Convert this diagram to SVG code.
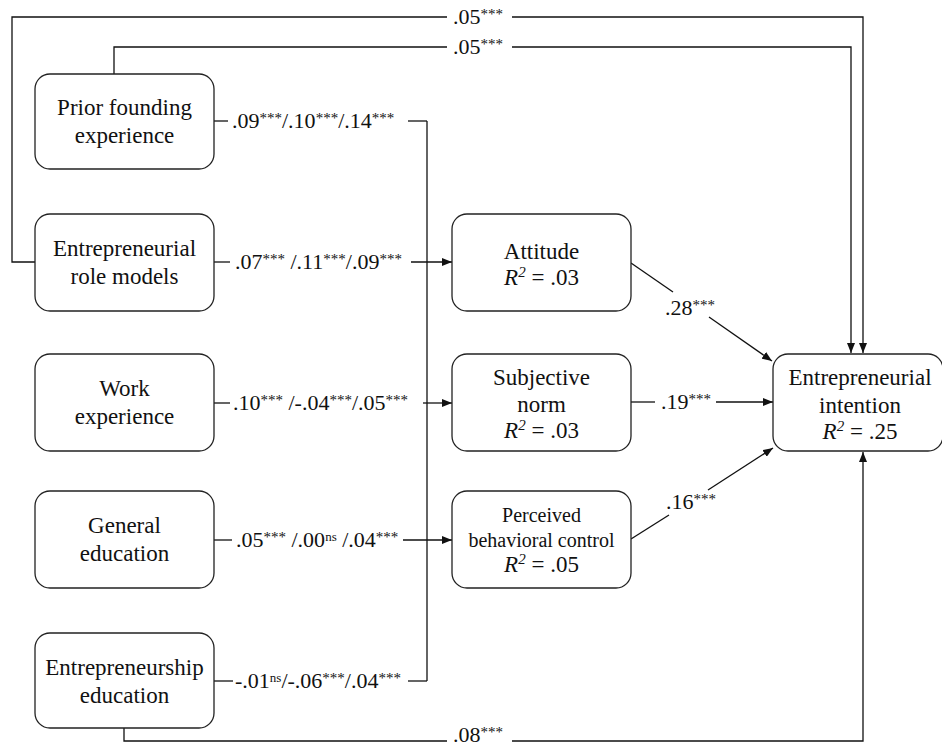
<svg xmlns="http://www.w3.org/2000/svg" width="942" height="747" viewBox="0 0 942 747">
  <defs>
    <marker id="arr" markerWidth="10" markerHeight="8" refX="10" refY="4" orient="auto" markerUnits="userSpaceOnUse">
      <path d="M0,0 L10,4 L0,8 Z" fill="#111"/>
    </marker>
    <style>
      .box { fill: #fff; stroke: #222; stroke-width: 1.3; }
      .ln { fill: none; stroke: #111; stroke-width: 1.3; }
      .ar { fill: none; stroke: #111; stroke-width: 1.3; marker-end: url(#arr); }
      text { font-family: "Times New Roman", "Liberation Serif", Tinos, "Noto Serif", "DejaVu Serif", FreeSerif, serif; fill: #111; }
      .nt { font-size: 23px; text-anchor: middle; }
      .sm { font-size: 20px; }
      .lbl { font-size: 22px; }
      .s { font-size: 15px; }
      .ns { font-size: 13px; }
      .it { font-style: italic; }
    </style>
  </defs>

  <rect width="942" height="747" fill="#fff"/>

  <!-- connectors -->
  <g id="connectors">
    <!-- role models -> intention (outer loop over the top) -->
    <polyline class="ln" points="35,262 12,262 12,17 447,17"/>
    <polyline class="ar" points="512,17 863,17 863,353"/>
    <!-- prior founding -> intention -->
    <polyline class="ln" points="114,74 114,47 447,47"/>
    <polyline class="ar" points="512,47 851,47 851,353"/>
    <!-- entrepreneurship education -> intention (bottom loop) -->
    <polyline class="ln" points="124,728 124,741 447,741"/>
    <polyline class="ar" points="512,741 863,741 863,452"/>

    <!-- collector bus -->
    <line class="ln" x1="427" y1="121" x2="427" y2="681"/>

    <line class="ln" x1="214" y1="121" x2="228" y2="121"/>
    <line class="ln" x1="408" y1="121" x2="427" y2="121"/>

    <line class="ln" x1="214" y1="262" x2="230" y2="262"/>
    <line class="ar" x1="411" y1="262" x2="452" y2="262"/>

    <line class="ln" x1="214" y1="403" x2="230" y2="403"/>
    <line class="ar" x1="423" y1="403" x2="452" y2="403"/>

    <line class="ln" x1="214" y1="540" x2="232" y2="540"/>
    <line class="ar" x1="403" y1="540" x2="452" y2="540"/>

    <line class="ln" x1="214" y1="681" x2="233" y2="681"/>
    <line class="ln" x1="408" y1="681" x2="427" y2="681"/>

    <!-- attitudes -> intention -->
    <line class="ln" x1="631" y1="263" x2="673" y2="292"/>
    <line class="ar" x1="709" y1="317" x2="772" y2="361"/>

    <line class="ln" x1="631" y1="402" x2="655" y2="402"/>
    <line class="ar" x1="716" y1="402" x2="773" y2="402"/>

    <line class="ln" x1="631" y1="539" x2="669" y2="515"/>
    <line class="ar" x1="708" y1="490" x2="773" y2="448"/>

    <!-- path coefficients -->
    <text class="lbl" x="453" y="24">.05<tspan class="s" dy="-5">***</tspan></text>
    <text class="lbl" x="453" y="54">.05<tspan class="s" dy="-5">***</tspan></text>
    <text class="lbl" x="453" y="742">.08<tspan class="s" dy="-5">***</tspan></text>

    <text class="lbl" x="232" y="128">.09<tspan class="s" dy="-5">***</tspan><tspan dy="5">/.10</tspan><tspan class="s" dy="-5">***</tspan><tspan dy="5">/.14</tspan><tspan class="s" dy="-5">***</tspan></text>
    <text class="lbl" x="235" y="269">.07<tspan class="s" dy="-5">***</tspan><tspan dy="5"> /.11</tspan><tspan class="s" dy="-5">***</tspan><tspan dy="5">/.09</tspan><tspan class="s" dy="-5">***</tspan></text>
    <text class="lbl" x="233" y="410">.10<tspan class="s" dy="-5">***</tspan><tspan dy="5"> /-.04</tspan><tspan class="s" dy="-5">***</tspan><tspan dy="5">/.05</tspan><tspan class="s" dy="-5">***</tspan></text>
    <text class="lbl" x="236" y="547">.05<tspan class="s" dy="-5">***</tspan><tspan dy="5"> /.00</tspan><tspan class="ns" dy="-6">ns</tspan><tspan dy="6"> /.04</tspan><tspan class="s" dy="-5">***</tspan></text>
    <text class="lbl" x="235" y="688">-.01<tspan class="ns" dy="-6">ns</tspan><tspan dy="6">/-.06</tspan><tspan class="s" dy="-5">***</tspan><tspan dy="5">/.04</tspan><tspan class="s" dy="-5">***</tspan></text>

    <text class="lbl" x="665" y="315">.28<tspan class="s" dy="-5">***</tspan></text>
    <text class="lbl" x="661" y="409">.19<tspan class="s" dy="-5">***</tspan></text>
    <text class="lbl" x="666" y="509">.16<tspan class="s" dy="-5">***</tspan></text>
  </g>

  <!-- antecedents -->
  <g id="prior-founding">
    <rect class="box" x="35" y="74" width="179" height="95" rx="15"/>
    <text class="nt" x="124.5" y="115">Prior founding</text>
    <text class="nt" x="124.5" y="143">experience</text>
  </g>
  <g id="role-models">
    <rect class="box" x="35" y="214" width="179" height="97" rx="15"/>
    <text class="nt" x="124.5" y="256">Entrepreneurial</text>
    <text class="nt" x="124.5" y="284">role models</text>
  </g>
  <g id="work-experience">
    <rect class="box" x="35" y="354" width="179" height="97" rx="15"/>
    <text class="nt" x="124.5" y="396">Work</text>
    <text class="nt" x="124.5" y="424">experience</text>
  </g>
  <g id="general-education">
    <rect class="box" x="35" y="491" width="179" height="97" rx="15"/>
    <text class="nt" x="124.5" y="533">General</text>
    <text class="nt" x="124.5" y="561">education</text>
  </g>
  <g id="entrepreneurship-education">
    <rect class="box" x="35" y="633" width="179" height="95" rx="15"/>
    <text class="nt" x="124.5" y="675">Entrepreneurship</text>
    <text class="nt" x="124.5" y="703">education</text>
  </g>

  <!-- TPB constructs -->
  <g id="attitude">
    <rect class="box" x="452" y="214" width="179" height="97" rx="15"/>
    <text class="nt" x="541.5" y="259">Attitude</text>
    <text class="nt" x="541.5" y="285"><tspan class="it">R</tspan><tspan class="it" font-size="15" dy="-8">2</tspan><tspan dy="8"> = .03</tspan></text>
  </g>
  <g id="subjective-norm">
    <rect class="box" x="452" y="354" width="179" height="97" rx="15"/>
    <text class="nt" x="541.5" y="385">Subjective</text>
    <text class="nt" x="541.5" y="412">norm</text>
    <text class="nt" x="541.5" y="438"><tspan class="it">R</tspan><tspan class="it" font-size="15" dy="-8">2</tspan><tspan dy="8"> = .03</tspan></text>
  </g>
  <g id="perceived-behavioral-control">
    <rect class="box" x="452" y="491" width="179" height="97" rx="15"/>
    <text class="nt sm" x="541.5" y="522">Perceived</text>
    <text class="nt sm" x="541.5" y="547">behavioral control</text>
    <text class="nt" x="541.5" y="572"><tspan class="it">R</tspan><tspan class="it" font-size="15" dy="-8">2</tspan><tspan dy="8"> = .05</tspan></text>
  </g>

  <!-- outcome -->
  <g id="entrepreneurial-intention">
    <rect class="box" x="773" y="354" width="170" height="97" rx="15"/>
    <text class="nt" x="860" y="385">Entrepreneurial</text>
    <text class="nt" x="860" y="413">intention</text>
    <text class="nt" x="860" y="439"><tspan class="it">R</tspan><tspan class="it" font-size="15" dy="-8">2</tspan><tspan dy="8"> = .25</tspan></text>
  </g>
</svg>
